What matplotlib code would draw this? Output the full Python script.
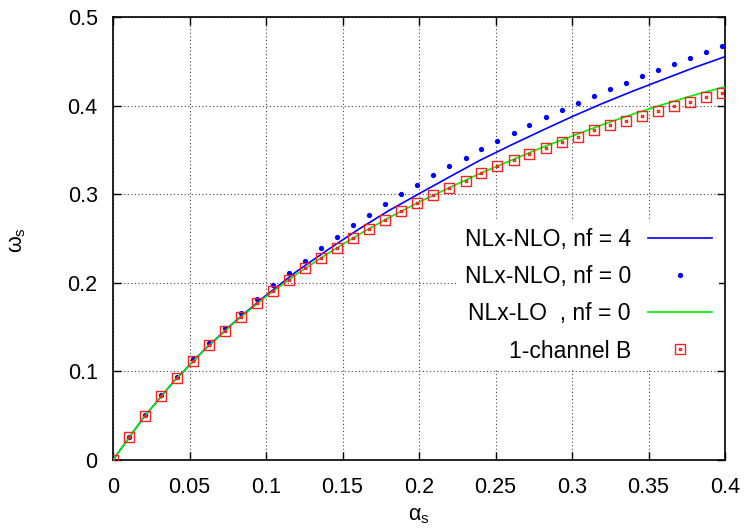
import matplotlib
matplotlib.use("Agg")
import matplotlib.pyplot as plt
from matplotlib.path import Path
import numpy as np

# ---- data ----
x_pts = [0, 0.0105, 0.0209, 0.0314, 0.0419, 0.0524, 0.0628, 0.0733, 0.0838, 0.0942,
         0.1047, 0.1152, 0.1256, 0.1361, 0.1466, 0.1571, 0.1675, 0.1780, 0.1885, 0.1989,
         0.2094, 0.2199, 0.2304, 0.2408, 0.2513, 0.2618, 0.2722, 0.2827, 0.2932, 0.3036,
         0.3141, 0.3246, 0.3351, 0.3455, 0.3560, 0.3665, 0.3769, 0.3874, 0.3979]
nlo_nf0 = [0, 0.0265, 0.0505, 0.0728, 0.094, 0.1135, 0.1315, 0.149, 0.1655, 0.1817,
           0.197, 0.211, 0.225, 0.239, 0.252, 0.265, 0.277, 0.2886, 0.300, 0.3104,
           0.3213, 0.3313, 0.3414, 0.3508, 0.360, 0.369, 0.378, 0.3868, 0.395, 0.403,
           0.4108, 0.4186, 0.426, 0.4335, 0.4405, 0.4475, 0.454, 0.4608, 0.4673]
one_channel_B = [0, 0.0263, 0.050, 0.0722, 0.0929, 0.1117, 0.1294, 0.1459, 0.1618, 0.1768,
                 0.1905, 0.2037, 0.2163, 0.2283, 0.2396, 0.2509, 0.261, 0.2712, 0.281, 0.290,
                 0.2987, 0.3068, 0.3153, 0.3234, 0.3314, 0.3383, 0.3454, 0.3523, 0.3589, 0.3649,
                 0.3722, 0.3776, 0.383, 0.3886, 0.3943, 0.3995, 0.4044, 0.4097, 0.4142]

x_line = [0, 0.02, 0.04, 0.06, 0.08, 0.10, 0.12, 0.14, 0.16, 0.18, 0.20,
          0.22, 0.24, 0.26, 0.28, 0.30, 0.32, 0.34, 0.36, 0.38, 0.40]
nlo_nf4 = [0, 0.048, 0.0893, 0.1250, 0.1568, 0.1858, 0.2128, 0.2368, 0.2598, 0.2812, 0.3005,
           0.3196, 0.3384, 0.3553, 0.3716, 0.3875, 0.4025, 0.4165, 0.4298, 0.4430, 0.4552]
lo_nf0 = [0, 0.048, 0.0893, 0.1247, 0.1562, 0.1845, 0.2097, 0.2326, 0.2538, 0.2732, 0.2910,
          0.3075, 0.3235, 0.3380, 0.3525, 0.3655, 0.3785, 0.3905, 0.4015, 0.4120, 0.4213]

x_ticks = [0, 0.05, 0.1, 0.15, 0.2, 0.25, 0.3, 0.35, 0.4]
x_ticklabels = ["0", "0.05", "0.1", "0.15", "0.2", "0.25", "0.3", "0.35", "0.4"]
y_ticks = [0, 0.1, 0.2, 0.3, 0.4, 0.5]
y_ticklabels = ["0", "0.1", "0.2", "0.3", "0.4", "0.5"]

labels = ["NLx-NLO, nf = 4", "NLx-NLO, nf = 0", "NLx-LO  , nf = 0", "1-channel B"]

# ---- style ----
plt.rcParams['font.family'] = ['Liberation Sans', 'DejaVu Sans']
plt.rcParams['mathtext.fontset'] = 'custom'
plt.rcParams['mathtext.rm'] = 'Liberation Sans'
plt.rcParams['mathtext.it'] = 'Liberation Sans'
plt.rcParams['mathtext.bf'] = 'Liberation Sans'
FS = 15.5
LFS = 16.5

fig = plt.figure(figsize=(7.46, 5.32), dpi=100)
ax = fig.add_axes([113/746, 1 - 460/532, (725-113)/746, (460-17)/532])

# square marker with a tiny centre dot (gnuplot style)
sq = [(-0.5, -0.5), (0.5, -0.5), (0.5, 0.5), (-0.5, 0.5), (-0.5, -0.5)]
d = 0.06
dot = [(-d, -d), (d, -d), (d, d), (-d, d), (-d, -d)]
codes = [Path.MOVETO, Path.LINETO, Path.LINETO, Path.LINETO, Path.CLOSEPOLY]
sq_marker = Path(sq + dot, codes + codes)

ax.plot(x_line, nlo_nf4, color='#0000ff', lw=1.2, label=labels[0], zorder=3)
ax.plot(x_pts, nlo_nf0, linestyle='none', marker='o', markersize=3.8,
        color='#0000ff', markeredgewidth=0, label=labels[1], zorder=4)
ax.plot(x_line, lo_nf0, color='#00ee00', lw=1.2, label=labels[2], zorder=5)
ax.plot(x_pts, one_channel_B, linestyle='none', marker=sq_marker, markersize=7.4,
        markerfacecolor='none', markeredgecolor='#ff2020', markeredgewidth=1.0,
        label=labels[3], zorder=6)

ax.set_xlim(0, 0.4)
ax.set_ylim(0, 0.5)
ax.set_xticks(x_ticks)
ax.set_xticklabels(x_ticklabels)
ax.set_yticks(y_ticks)
ax.set_yticklabels(y_ticklabels)
ax.tick_params(direction='in', length=6, width=1, top=True, right=True,
               labelsize=FS, colors='black')
ax.tick_params(axis='y', pad=11)
ax.tick_params(axis='x', pad=12)
ax.grid(True, color='#444444', linestyle=(0, (1, 2.2)), lw=0.8)
ax.set_axisbelow(True)
for s in ax.spines.values():
    s.set_linewidth(1.2)

fig.text(419/746, 1 - 516/532, r'$\alpha_s$', fontsize=FS, ha='center', va='center')
fig.text(17/746, 1 - 240/532, r'$\omega_s$', fontsize=FS, ha='center', va='center', rotation=90)

leg = ax.legend(loc='upper right', bbox_to_anchor=(719/746, 1 - 221/532),
                bbox_transform=fig.transFigure, markerfirst=False, frameon=True,
                fontsize=LFS, handlelength=2.8, handletextpad=0.75, labelspacing=0.62,
                borderpad=0.3, borderaxespad=0, fancybox=False)
leg.get_frame().set_edgecolor('none')
leg.get_frame().set_facecolor('white')
leg.get_frame().set_alpha(1)
leg.set_zorder(10)

fig.savefig('out.png', dpi=100)
